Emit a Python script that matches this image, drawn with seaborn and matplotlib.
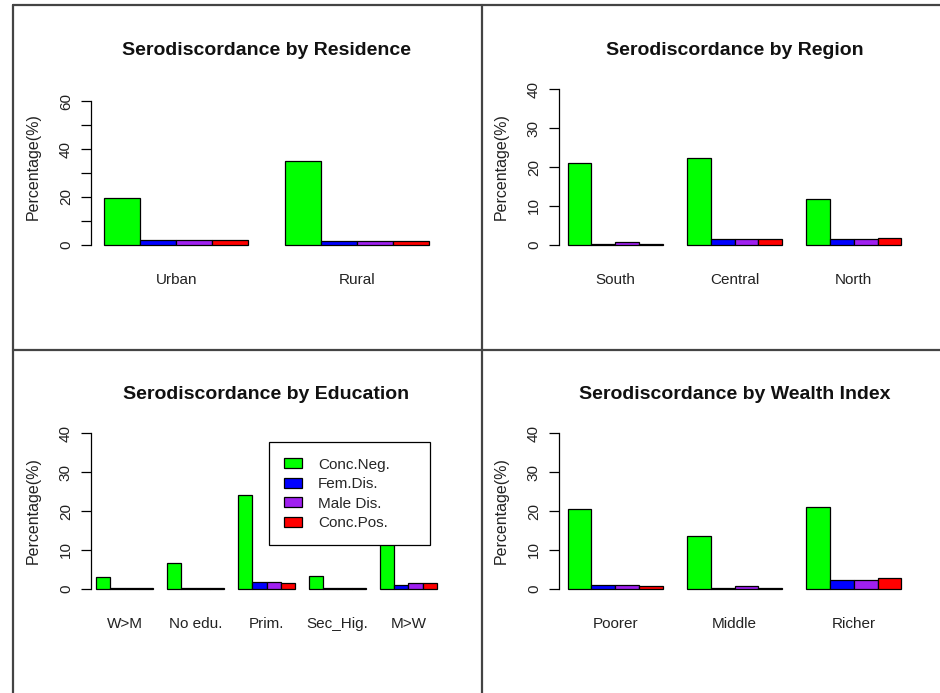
import matplotlib
matplotlib.use("Agg")
import matplotlib.pyplot as plt
import seaborn as sns
import pandas as pd
from matplotlib.lines import Line2D

# status categories and their bar colours
statuses = ["Conc.Neg.", "Fem.Dis.", "Male Dis.", "Conc.Pos."]
colors = ["#00FF00", "#0000FF", "#A020F0", "#FF0000"]

residence = ["Urban", "Rural"]
residence_neg = [19.6, 34.9]
residence_fem = [2.1, 1.4]
residence_male = [2.1, 1.4]
residence_pos = [2.1, 1.4]

region = ["South", "Central", "North"]
region_neg = [21.0, 22.3, 11.9]
region_fem = [0.3, 1.6, 1.4]
region_male = [0.6, 1.6, 1.4]
region_pos = [0.3, 1.6, 1.7]

education = ["W>M", "No edu.", "Prim.", "Sec_Hig.", "M>W"]
education_neg = [3.1, 6.6, 24.1, 3.3, 18.0]
education_fem = [0.2, 0.3, 1.7, 0.2, 1.0]
education_male = [0.2, 0.1, 1.7, 0.2, 1.4]
education_pos = [0.2, 0.1, 1.4, 0.2, 1.4]

wealth = ["Poorer", "Middle", "Richer"]
wealth_neg = [20.6, 13.6, 21.0]
wealth_fem = [1.1, 0.2, 2.3]
wealth_male = [1.1, 0.6, 2.3]
wealth_pos = [0.8, 0.2, 2.7]


def long_frame(groups, series):
    rows = []
    for status, vals in zip(statuses, series):
        for g, v in zip(groups, vals):
            rows.append({"group": g, "status": status, "pct": v})
    return pd.DataFrame(rows)


sns.set_style("white")
plt.rcParams["font.family"] = ["Liberation Sans", "DejaVu Sans"]

W, H = 940, 693
fig = plt.figure(figsize=(W / 100, H / 100), dpi=100)


def add_panel(left, top, width=351, height=168):
    return fig.add_axes([left / W, 1 - (top + height) / H, width / W, height / H])


panels = [
    ("Serodiscordance by Residence", residence,
     [residence_neg, residence_fem, residence_male, residence_pos], 65, 60, 91, 83),
    ("Serodiscordance by Region", region,
     [region_neg, region_fem, region_male, region_pos], 40, 40, 559, 83),
    ("Serodiscordance by Education", education,
     [education_neg, education_fem, education_male, education_pos], 40, 40, 91, 427),
    ("Serodiscordance by Wealth Index", wealth,
     [wealth_neg, wealth_fem, wealth_male, wealth_pos], 40, 40, 559, 427),
]

for title, groups, series, ymax, ytop, left, top in panels:
    ax = add_panel(left, top)
    df = long_frame(groups, series)
    show_legend = groups is education
    sns.barplot(
        data=df, x="group", y="pct", hue="status",
        order=groups, hue_order=statuses, palette=colors,
        saturation=1, width=0.8, errorbar=None,
        edgecolor="black", linewidth=0.9,
        legend=show_legend, ax=ax,
    )
    n = len(groups)
    ax.set_xlim(-0.472, n - 1 + 0.472)
    ax.set_ylim(-0.04 * ymax, ymax * 1.04)

    # R style axis: only the left line, from 0 to the top tick
    for side in ["top", "right", "bottom"]:
        ax.spines[side].set_visible(False)
    ax.spines["left"].set_bounds(0, ytop)
    ax.spines["left"].set_color("black")
    ax.spines["left"].set_linewidth(0.9)

    ticks = list(range(0, ytop + 1, 10))
    ax.set_yticks(ticks)
    if ytop == 60:
        ax.set_yticklabels([str(t) if t % 20 == 0 else "" for t in ticks])
    else:
        ax.set_yticklabels([str(t) for t in ticks])
    ax.tick_params(axis="y", left=True, length=7, width=0.9, color="black",
                   pad=6, labelsize=11, labelcolor="#222222")
    for lbl in ax.get_yticklabels():
        lbl.set_rotation(90)
        lbl.set_va("center")
    ax.tick_params(axis="x", length=0, pad=16, labelsize=11, labelcolor="#222222")

    ax.set_xlabel("")
    ax.set_ylabel("Percentage(%)", fontsize=11.5, labelpad=13, color="#222222")
    ax.set_title(title, fontsize=14, fontweight="bold", pad=20, color="#111111")

    if show_legend:
        sns.move_legend(
            ax, loc="upper left", bbox_to_anchor=(0.507, 0.0, 0.459, 0.909),
            mode="expand", title=None,
            frameon=True, fancybox=False, fontsize=11, borderaxespad=0,
            handlelength=1.15, handleheight=0.65, handletextpad=1.05,
            labelspacing=0.36, borderpad=1.0,
        )
        leg = ax.get_legend()
        leg.get_frame().set_edgecolor("black")
        leg.get_frame().set_linewidth(0.9)
        leg.get_frame().set_alpha(1)

# panel divider lines of the original device window
line_kw = dict(transform=fig.transFigure, color="#444444", linewidth=1.6)
fig.add_artist(Line2D([13 / W, 13 / W], [0, 1 - 5 / H], **line_kw))
fig.add_artist(Line2D([13 / W, 1], [1 - 5 / H, 1 - 5 / H], **line_kw))
fig.add_artist(Line2D([482 / W, 482 / W], [0, 1 - 5 / H], **line_kw))
fig.add_artist(Line2D([13 / W, 1], [1 - 350 / H, 1 - 350 / H], **line_kw))

fig.savefig("out.png", dpi=100)
